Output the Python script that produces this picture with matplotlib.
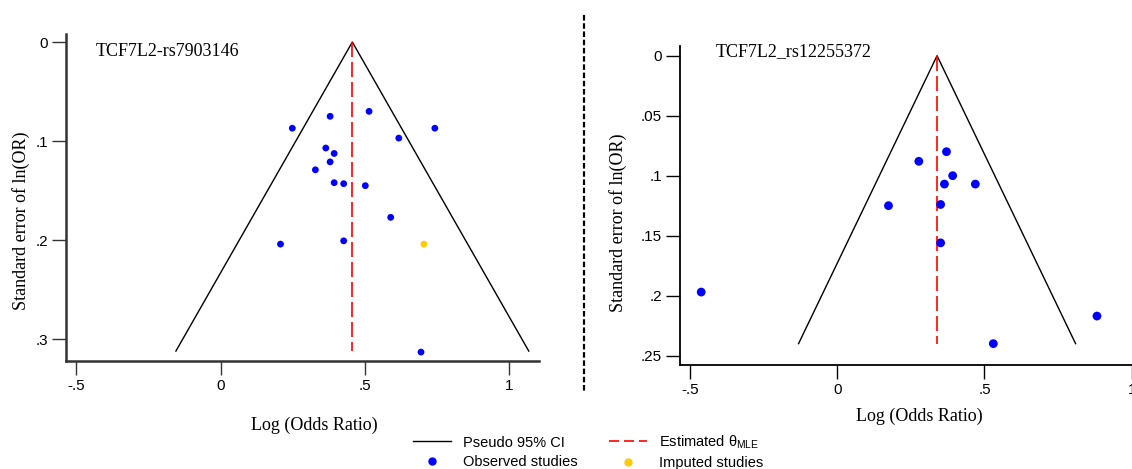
import matplotlib
matplotlib.use('Agg')
import matplotlib.pyplot as plt
from matplotlib.lines import Line2D

plt.rcParams['mathtext.fontset'] = 'custom'
plt.rcParams['mathtext.rm'] = 'Liberation Sans'

# datos panel izquierdo (rs7903146)
left_lnor = [0.248, 0.379, 0.514, 0.742, 0.617, 0.364, 0.393, 0.379, 0.328,
             0.393, 0.426, 0.501, 0.589, 0.207, 0.426, 0.694]
left_se = [0.087, 0.075, 0.070, 0.087, 0.097, 0.107, 0.1125, 0.121, 0.129,
           0.142, 0.143, 0.145, 0.177, 0.204, 0.2007, 0.313]
left_imp_lnor = [0.704]
left_imp_se = [0.204]
left_theta = 0.456
left_semax = 0.312

# datos panel derecho (rs12255372)
right_lnor = [0.371, 0.277, 0.392, 0.364, 0.469, 0.174, 0.351, 0.351, -0.462, 0.882, 0.530]
right_se = [0.080, 0.088, 0.100, 0.107, 0.107, 0.125, 0.124, 0.156, 0.197, 0.217, 0.240]
right_theta = 0.339
right_semax = 0.240

x_ticks = [-0.5, 0, 0.5, 1]
x_labels = ['-.5', '0', '.5', '1']
left_yticks = [0, 0.1, 0.2, 0.3]
left_ylabels = ['0', '.1', '.2', '.3']
right_yticks = [0, 0.05, 0.1, 0.15, 0.2, 0.25]
right_ylabels = ['0', '.05', '.1', '.15', '.2', '.25']

W, H = 1132, 469
fig = plt.figure(figsize=(W / 100, H / 100), dpi=100)

serif = 'Liberation Serif'
sans = 'Liberation Sans'


#dibuja un funnel plot
def funnel(ax, lnor, se, theta, semax, size, spine_col, spine_lw):
    lo = theta - 1.96 * semax
    hi = theta + 1.96 * semax
    ax.plot([lo, theta, hi], [semax, 0, semax], color='black', lw=1.0, zorder=2)
    ax.plot([theta, theta], [0, semax], color='#ff0000', lw=1.2,
            dashes=(9, 3), zorder=2)
    ax.scatter(lnor, se, s=size, color='#0000ff', edgecolors='none', zorder=3,
               clip_on=False)
    for s in ['top', 'right']:
        ax.spines[s].set_visible(False)
    for s in ['left', 'bottom']:
        ax.spines[s].set_color(spine_col)
        ax.spines[s].set_linewidth(spine_lw)
    ax.tick_params(length=10, width=1.0, color=spine_col, pad=3)
    ax.set_xticks(x_ticks)
    ax.set_xticklabels(x_labels, fontname=sans, fontsize=11)


# panel izquierdo
ax1 = fig.add_axes([66.4 / W, 1 - 361 / H, (539.3 - 66.4) / W, (361 - 34) / H])
funnel(ax1, left_lnor, left_se, left_theta, left_semax, 24, '#333333', 1.8)
ax1.scatter(left_imp_lnor, left_imp_se, s=24, color='#ffcc00', edgecolors='none', zorder=3)
ax1.set_xlim(-0.535, 1.104)
ax1.set_ylim(0.322, -0.0081)
ax1.set_yticks(left_yticks)
ax1.set_yticklabels(left_ylabels, fontname=sans, fontsize=11)

# panel derecho (el eje sigue hasta el borde, el "1" queda cortado)
ax2 = fig.add_axes([680.3 / W, 1 - 365 / H, (W - 680.3) / W, (365 - 46) / H])
funnel(ax2, right_lnor, right_se, right_theta, right_semax, 40, 'black', 1.3)
ax2.set_xlim(-0.533, 1.001)
ax2.set_ylim(0.2578, -0.0081)
ax2.set_yticks(right_yticks)
ax2.set_yticklabels(right_ylabels, fontname=sans, fontsize=11)

# textos
fig.text(96 / W, 1 - 51 / H, 'TCF7L2-rs7903146', fontname=serif, fontsize=13, va='center')
fig.text(715.6 / W, 1 - 52 / H, 'TCF7L2_rs12255372', fontname=serif, fontsize=13, va='center')
fig.text(21 / W, 1 - 221 / H, 'Standard error of ln(OR)', fontname=serif, fontsize=13,
         rotation=90, ha='center', va='center')
fig.text(618 / W, 1 - 223 / H, 'Standard error of ln(OR)', fontname=serif, fontsize=13,
         rotation=90, ha='center', va='center')
fig.text(314 / W, 1 - 425 / H, 'Log (Odds Ratio)', fontname=serif, fontsize=13,
         ha='center', va='center')
fig.text(919 / W, 1 - 416 / H, 'Log (Odds Ratio)', fontname=serif, fontsize=13,
         ha='center', va='center')

# linea separadora
fig.add_artist(Line2D([584 / W, 584 / W], [1 - 15 / H, 1 - 391 / H], color='black',
                      lw=1.6, dashes=(2.5, 1.2)))

# leyenda
handles = [
    Line2D([], [], color='black', lw=1.0),
    Line2D([], [], marker='o', ls='none', color='#0000ff', markersize=5),
    Line2D([], [], color='#ff0000', lw=1.2, dashes=(6, 3)),
    Line2D([], [], marker='o', ls='none', color='#ffcc00', markersize=5),
]
labels = ['Pseudo 95% CI', 'Observed studies',
          'Estimated θ$_{\\mathrm{MLE}}$', 'Imputed studies']
fig.legend(handles, labels, ncol=2, loc='center', bbox_to_anchor=(588 / W, 1 - 452 / H),
           frameon=False, prop={'family': sans, 'size': 10.5}, handlelength=2.6,
           columnspacing=2.2, labelspacing=0.35, handletextpad=0.8)

fig.savefig('out.png', dpi=100)
